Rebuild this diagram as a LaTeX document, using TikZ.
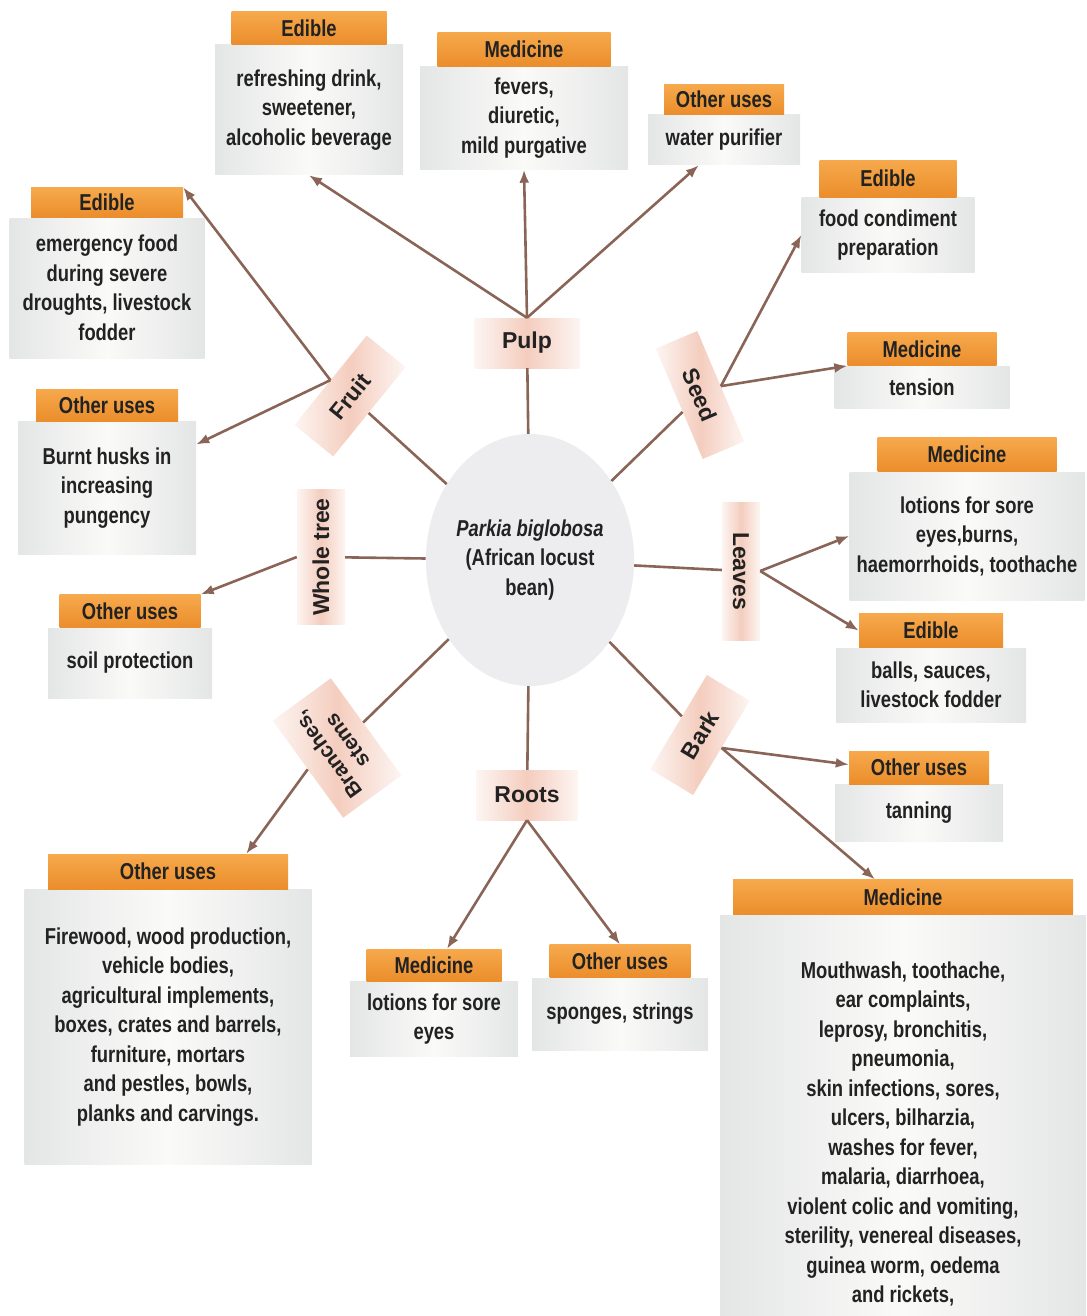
\documentclass[tikz,border=0pt]{standalone}
\usepackage{fontspec}
\setmainfont{Liberation Sans}[FakeStretch=0.8]
\newfontfamily\partfont{Liberation Sans}
\usetikzlibrary{positioning,arrows.meta,shapes.geometric}
\definecolor{hdrtop}{HTML}{F6A94C}
\definecolor{hdrbot}{HTML}{EB8D2B}
\definecolor{bodyside}{HTML}{E4E6E6}
\definecolor{bodymid}{HTML}{FAFAF8}
\definecolor{partpink}{HTML}{F4CDBE}
\definecolor{hubgray}{HTML}{EDEDF0}
\definecolor{linkbrown}{HTML}{8A6557}
\definecolor{ink}{HTML}{222222}
\begin{document}
\begin{tikzpicture}[x=1pt,y=-1pt,
			font=\fontsize{23}{29.5}\selectfont\bfseries,
			text=ink,
			body/.style={inner sep=0pt, align=center, left color=bodyside, right color=bodyside, middle color=bodymid},
			hdr/.style={inner sep=0pt, top color=hdrtop, bottom color=hdrbot},
			part/.style={inner sep=0pt, align=center, font=\partfont\fontsize{23}{25}\selectfont\bfseries, left color=partpink!20, right color=partpink!20, middle color=partpink},
			hub/.style={ellipse, fill=hubgray, minimum width=190pt, minimum height=252pt, inner sep=0pt, align=center},
			link/.style={draw=linkbrown, line width=2.6pt},
			arr/.style={link, -{Latex[length=13pt,width=10pt]}}
			]
			\useasboundingbox (0,0) rectangle (1086,1316);
			\node[hub] (hub) at (530,560) {\textit{Parkia biglobosa}\\(African locust\\bean)};
			\node[part, minimum width=105pt, minimum height=50pt] (pulp) at (527,343) {Pulp};
			\node[part, rotate=51, minimum width=115pt, minimum height=50pt] (fruit) at (350,396) {Fruit};
			\node[part, rotate=-67, minimum width=120pt, minimum height=45pt] (seed) at (700,395) {Seed};
			\node[part, rotate=90, minimum width=135pt, minimum height=48pt] (tree) at (321,557) {Whole tree};
			\node[part, rotate=-90, minimum width=138pt, minimum height=38pt] (leaves) at (741,571) {Leaves};
			\node[part, rotate=126, minimum width=120pt, minimum height=72pt, font=\partfont\fontsize{21}{24}\selectfont\bfseries] (branch) at (337,748) {Branches,\\stems};
			\node[part, rotate=59, minimum width=110pt, minimum height=50pt] (bark) at (700,735) {Bark};
			\node[part, minimum width=101pt, minimum height=50pt] (roots) at (527,795) {Roots};
			\draw[link] (hub) -- (pulp);
			\draw[link] (hub) -- (fruit);
			\draw[link] (hub) -- (seed);
			\draw[link] (hub) -- (tree);
			\draw[link] (hub) -- (leaves);
			\draw[link] (hub) -- (branch);
			\draw[link] (hub) -- (bark);
			\draw[link] (hub) -- (roots);
			\node[body, minimum width=195pt, minimum height=140pt] (fe) at (107,288) {emergency food\\during severe\\droughts, livestock\\fodder};
			\node[hdr, minimum width=152pt, minimum height=30pt, above=0pt of fe] (feh) {Edible};
			\node[body, minimum width=178pt, minimum height=133pt] (fo) at (107,488) {Burnt husks in\\increasing\\pungency};
			\node[hdr, minimum width=142pt, minimum height=32pt, above=0pt of fo] (foh) {Other uses};
			\node[body, minimum width=188pt, minimum height=130pt] (pe) at (309,110) {refreshing drink,\\sweetener,\\alcoholic beverage};
			\node[hdr, minimum width=155pt, minimum height=33pt, above=0pt of pe] (peh) {Edible};
			\node[body, minimum width=208pt, minimum height=103pt] (pm) at (524,118) {fevers,\\diuretic,\\mild purgative};
			\node[hdr, minimum width=173pt, minimum height=34pt, above=0pt of pm] (pmh) {Medicine};
			\node[body, minimum width=152pt, minimum height=50pt] (po) at (724,140) {water purifier};
			\node[hdr, minimum width=120pt, minimum height=30pt, above=0pt of po] (poh) {Other uses};
			\node[body, minimum width=173pt, minimum height=75pt] (se) at (888,235) {food condiment\\preparation};
			\node[hdr, minimum width=137pt, minimum height=37pt, above=0pt of se] (seh) {Edible};
			\node[body, minimum width=175pt, minimum height=42pt] (sm) at (922,387) {tension};
			\node[hdr, minimum width=149pt, minimum height=33pt, above=0pt of sm] (smh) {Medicine};
			\node[body, minimum width=235pt, minimum height=128pt] (lm) at (967,536) {lotions for sore\\eyes,burns,\\haemorrhoids, toothache};
			\node[hdr, minimum width=179pt, minimum height=34pt, above=0pt of lm] (lmh) {Medicine};
			\node[body, minimum width=190pt, minimum height=74pt] (le) at (931,685) {balls, sauces,\\livestock fodder};
			\node[hdr, minimum width=144pt, minimum height=34pt, above=0pt of le] (leh) {Edible};
			\node[body, minimum width=164pt, minimum height=70pt] (wo) at (130,663) {soil protection};
			\node[hdr, minimum width=141pt, minimum height=33pt, above=0pt of wo] (woh) {Other uses};
			\node[body, minimum width=287pt, minimum height=275pt] (bo) at (168,1027) {Firewood, wood production,\\vehicle bodies,\\agricultural implements,\\boxes, crates and barrels,\\furniture, mortars\\and pestles, bowls,\\planks and carvings.};
			\node[hdr, minimum width=240pt, minimum height=35pt, above=0pt of bo] (boh) {Other uses};
			\node[body, minimum width=168pt, minimum height=75pt] (rm) at (434,1019) {lotions for sore\\eyes};
			\node[hdr, minimum width=135pt, minimum height=32pt, above=0pt of rm] (rmh) {Medicine};
			\node[body, minimum width=176pt, minimum height=72pt] (ro) at (620,1014) {sponges, strings};
			\node[hdr, minimum width=141pt, minimum height=33pt, above=0pt of ro] (roh) {Other uses};
			\node[body, minimum width=168pt, minimum height=57pt] (ko) at (919,813) {tanning};
			\node[hdr, minimum width=140pt, minimum height=33pt, above=0pt of ko] (koh) {Other uses};
			\node[body, minimum width=366pt, minimum height=438pt] (km) at (903,1134) {Mouthwash, toothache,\\ear complaints,\\leprosy, bronchitis,\\pneumonia,\\skin infections, sores,\\ulcers, bilharzia,\\washes for fever,\\malaria, diarrhoea,\\violent colic and vomiting,\\sterility, venereal diseases,\\guinea worm, oedema\\and rickets,};
			\node[hdr, minimum width=340pt, minimum height=35pt, above=0pt of km] (kmh) {Medicine};
			\draw[arr] (fruit.north) -- (feh.north east);
			\draw[arr] (fruit.north) -- (fo.26);
			\draw[arr] (pulp.north) -- (pe.south);
			\draw[arr] (pulp.north) -- (pm.south);
			\draw[arr] (pulp.north) -- (po.-135);
			\draw[arr] (seed.north) -- (se.west);
			\draw[arr] (seed.north) -- (smh.south west);
			\draw[arr] (leaves.north) -- (lm.west);
			\draw[arr] (leaves.north) -- (leh.west);
			\draw[arr] (tree.north) -- (woh.north east);
			\draw[arr] (branch.north) -- ([xshift=-42pt]boh.north east);
			\draw[arr] (roots.south) -- ([xshift=13pt]rmh.north);
			\draw[arr] (roots.south) -- (roh.north);
			\draw[arr] (bark.south) -- ([yshift=3pt]koh.west);
			\draw[arr] (bark.south) -- ([xshift=-28pt]kmh.north);
\end{tikzpicture}
\end{document}
